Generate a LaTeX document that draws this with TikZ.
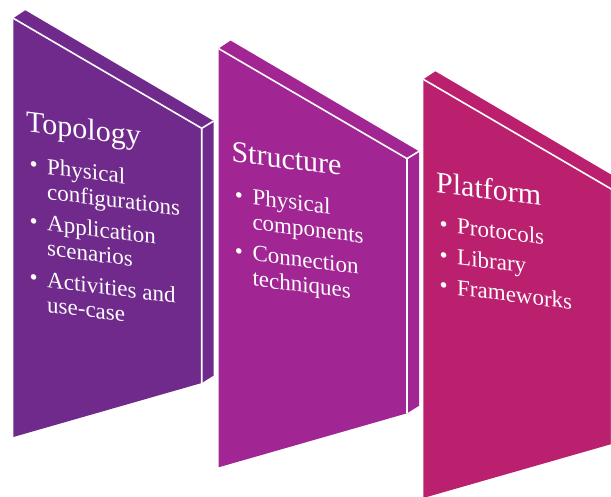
\documentclass[tikz,border=0pt]{standalone}
\usepackage{fontspec}
\setmainfont{Liberation Serif}
\definecolor{pA}{HTML}{702A8C}
\definecolor{pB}{HTML}{A12694}
\definecolor{pC}{HTML}{BB206F}
\tikzset{
  paneltitle/.style={anchor=base west, inner sep=0pt, text=white, font=\fontsize{30}{36}\selectfont, transform shape},
  itemtext/.style={anchor=base west, inner sep=0pt, text=white, font=\fontsize{23}{25}\selectfont, transform shape},
  bulletmark/.style={anchor=base, inner sep=0pt, text=white, font=\fontsize{23}{25}\selectfont, transform shape},
  edgeline/.style={white, line width=1.6pt, line join=miter},
  textframe/.style={shift={(26,131.5)}, yslant=-0.125},
}
\newcommand{\drawpanel}[3]{%
  \begin{scope}[shift={#2}]
    \coordinate (A#1) at (13.3,18.3);
    \coordinate (B#1) at (201.7,128.3);
    \coordinate (C#1) at (201.7,383);
    \coordinate (D#1) at (13.3,437);
    \coordinate (E#1) at (25.3,10.3);
    \coordinate (F#1) at (213.7,121);
    \coordinate (G#1) at (213.7,375.5);
    \fill[#3] (A#1) -- (E#1) -- (F#1) -- (G#1) -- (C#1) -- (D#1) -- cycle;
    \draw[edgeline] (A#1) -- (B#1) -- (C#1);
    \draw[edgeline] (B#1) -- (F#1);
  \end{scope}}
\begin{document}
\begin{tikzpicture}[x=1pt,y=-1pt]
\useasboundingbox (0,0) rectangle (611,497);
\clip (0,0) rectangle (611,497);

\drawpanel{1}{(0,0)}{pA}
\drawpanel{2}{(205.3,30.3)}{pB}
\drawpanel{3}{(410,61)}{pC}

% Panel 1 text
\begin{scope}[shift={(0,0)}]
\begin{scope}[textframe]
  \node[paneltitle] (t1) at (0,0) {Topology};
  \node[bulletmark] (b1a) at (7.7,40) {\textbullet};
  \node[itemtext] (l1a) at (21,40) {Physical};
  \node[itemtext] (l1b) at (21,65) {configurations};
  \node[bulletmark] (b1b) at (7.7,96.5) {\textbullet};
  \node[itemtext] (l1c) at (21,96.5) {Application};
  \node[itemtext] (l1d) at (21,121.5) {scenarios};
  \node[bulletmark] (b1c) at (7.7,153) {\textbullet};
  \node[itemtext] (l1e) at (21,153) {Activities and};
  \node[itemtext] (l1f) at (21,178) {use-case};
\end{scope}
\end{scope}

% Panel 2 text
\begin{scope}[shift={(205.3,30.3)}]
\begin{scope}[textframe]
  \node[paneltitle] (t2) at (0,0) {Structure};
  \node[bulletmark] (b2a) at (7.7,40) {\textbullet};
  \node[itemtext] (l2a) at (21,40) {Physical};
  \node[itemtext] (l2b) at (21,65) {components};
  \node[bulletmark] (b2b) at (7.7,96.5) {\textbullet};
  \node[itemtext] (l2c) at (21,96.5) {Connection};
  \node[itemtext] (l2d) at (21,121.5) {techniques};
\end{scope}
\end{scope}

% Panel 3 text
\begin{scope}[shift={(410,61)}]
\begin{scope}[textframe]
  \node[paneltitle] (t3) at (0,0) {Platform};
  \node[bulletmark] (b3a) at (7.7,38.5) {\textbullet};
  \node[itemtext] (l3a) at (21,38.5) {Protocols};
  \node[bulletmark] (b3b) at (7.7,69.5) {\textbullet};
  \node[itemtext] (l3b) at (21,69.5) {Library};
  \node[bulletmark] (b3c) at (7.7,100) {\textbullet};
  \node[itemtext] (l3c) at (21,100) {Frameworks};
\end{scope}
\end{scope}
\end{tikzpicture}
\end{document}
